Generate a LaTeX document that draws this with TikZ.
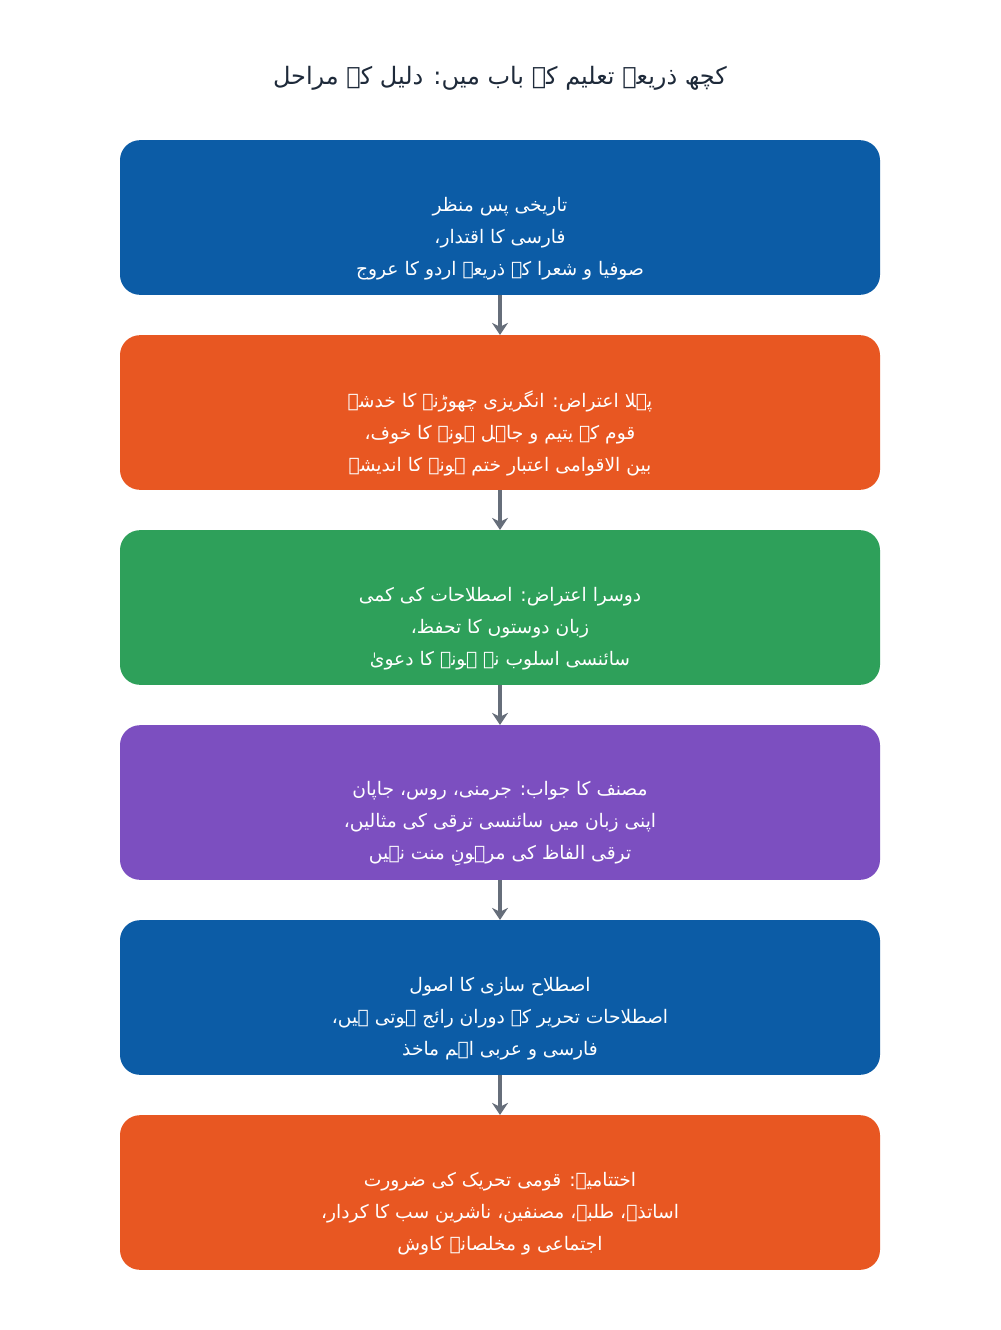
\documentclass[tikz,border=0pt]{standalone}
\usepackage{fontspec}
\usepackage{tikz}
\usetikzlibrary{arrows.meta}
\newfontfamily\urdufont[Script=Arabic]{DejaVu Sans}
\TeXXeTstate=1
\newcommand{\urline}[1]{\beginR #1\endR}
\definecolor{stageblue}{RGB}{12,92,166}
\definecolor{stageorange}{RGB}{232,87,34}
\definecolor{stagegreen}{RGB}{46,160,90}
\definecolor{stagepurple}{RGB}{124,79,192}
\definecolor{flowgray}{RGB}{102,110,122}
\definecolor{titleink}{RGB}{30,42,58}
\tikzset{
  stage/.style={rounded corners=15pt, minimum width=570pt, minimum height=116pt, inner sep=0pt},
  stagetext/.style={text=white, align=center, font=\urdufont\fontsize{14}{24}\selectfont},
  flow/.style={draw=flowgray, line width=3pt, -{Stealth[length=9pt,width=12pt]}}
}

\begin{document}
\begin{tikzpicture}[x=0.75pt, y=-0.75pt]
        \useasboundingbox[fill=white] (0,0) rectangle (1000,1330);
        % title
        \node[text=titleink, font=\urdufont\fontsize{18}{24}\selectfont] (title) at (500,78)
            {\urline{کچھ ذریعہ تعلیم کے باب میں: دلیل کے مراحل}};
        % stage 1
        \node[stage, fill=stageblue] (s1) at (500,217.5) {};
        \node[stagetext] (t1) at ([yshift=-16pt]s1.center)
            {\urline{تاریخی پس منظر}\\ \urline{فارسی کا اقتدار،}\\ \urline{صوفیا و شعرا کے ذریعے اردو کا عروج}};
        % stage 2
        \node[stage, fill=stageorange] (s2) at (500,412.5) {};
        \node[stagetext] (t2) at ([yshift=-16pt]s2.center)
            {\urline{پہلا اعتراض: انگریزی چھوڑنے کا خدشہ}\\ \urline{قوم کے یتیم و جاہل ہونے کا خوف،}\\ \urline{بین الاقوامی اعتبار ختم ہونے کا اندیشہ}};
        % stage 3
        \node[stage, fill=stagegreen] (s3) at (500,607.5) {};
        \node[stagetext] (t3) at ([yshift=-16pt]s3.center)
            {\urline{دوسرا اعتراض: اصطلاحات کی کمی}\\ \urline{زبان دوستوں کا تحفظ،}\\ \urline{سائنسی اسلوب نہ ہونے کا دعویٰ}};
        % stage 4
        \node[stage, fill=stagepurple] (s4) at (500,802.5) {};
        \node[stagetext] (t4) at ([yshift=-16pt]s4.center)
            {\urline{مصنف کا جواب: جرمنی، روس، جاپان}\\ \urline{اپنی زبان میں سائنسی ترقی کی مثالیں،}\\ \urline{ترقی الفاظ کی مرہونِ منت نہیں}};
        % stage 5
        \node[stage, fill=stageblue] (s5) at (500,997.5) {};
        \node[stagetext] (t5) at ([yshift=-16pt]s5.center)
            {\urline{اصطلاح سازی کا اصول}\\ \urline{اصطلاحات تحریر کے دوران رائج ہوتی ہیں،}\\ \urline{فارسی و عربی اہم ماخذ}};
        % stage 6
        \node[stage, fill=stageorange] (s6) at (500,1192.5) {};
        \node[stagetext] (t6) at ([yshift=-16pt]s6.center)
            {\urline{اختتامیہ: قومی تحریک کی ضرورت}\\ \urline{اساتذہ، طلبہ، مصنفین، ناشرین سب کا کردار،}\\ \urline{اجتماعی و مخلصانہ کاوش}};
        % arrows
        \draw[flow] (s1.south) -- (s2.north);
        \draw[flow] (s2.south) -- (s3.north);
        \draw[flow] (s3.south) -- (s4.north);
        \draw[flow] (s4.south) -- (s5.north);
        \draw[flow] (s5.south) -- (s6.north);
    \end{tikzpicture}
\end{document}
